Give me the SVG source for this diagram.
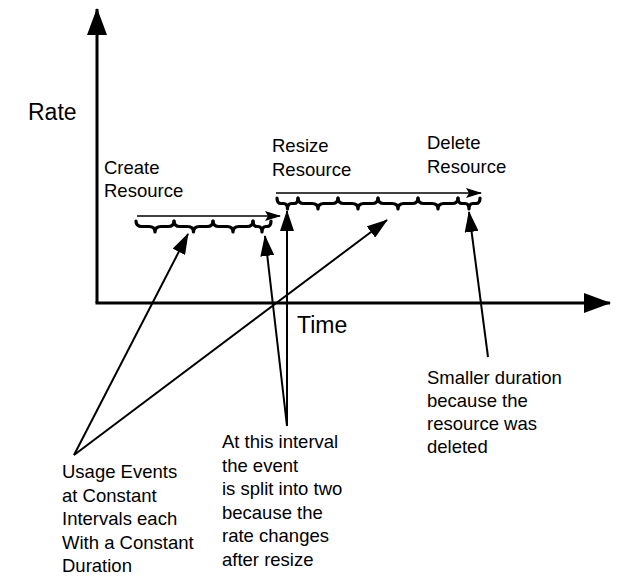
<svg xmlns="http://www.w3.org/2000/svg" width="627" height="576" viewBox="0 0 627 576">
  <style>
    text { font-family: "Liberation Sans", Arial, Helvetica, sans-serif; fill: #000; }
    .axis-label { font-size: 23px; }
    .note { font-size: 18.5px; }
    .axis { stroke: #000; stroke-width: 3; fill: none; }
    .timeline { stroke: #000; stroke-width: 1.6; fill: none; }
    .pointer { stroke: #000; stroke-width: 2; fill: none; }
    .brace { stroke: #000; stroke-width: 3.2; fill: none; stroke-linejoin: round; stroke-linecap: round; }
  </style>
  <defs>
    <marker id="axisHead" viewBox="0 0 27 20" refX="26" refY="10" markerWidth="27" markerHeight="20" markerUnits="userSpaceOnUse" orient="auto">
      <path d="M0,0 L27,10 L0,20 Z" fill="#000"/>
    </marker>
    <marker id="pointerHead" viewBox="0 0 21 14" refX="20" refY="7" markerWidth="21" markerHeight="14" markerUnits="userSpaceOnUse" orient="auto">
      <path d="M0,0 L21,7 L0,14 Z" fill="#000"/>
    </marker>
    <marker id="timelineHead" viewBox="0 0 16 10" refX="15" refY="5" markerWidth="16" markerHeight="10" markerUnits="userSpaceOnUse" orient="auto">
      <path d="M0,0 L16,5 L0,10 L3,5 Z" fill="#000"/>
    </marker>
  </defs>

  <!-- axes -->
  <g id="axes">
    <line class="axis" x1="97" y1="303" x2="97" y2="9" marker-end="url(#axisHead)"/>
    <line class="axis" x1="95.5" y1="303" x2="610" y2="303" marker-end="url(#axisHead)"/>
    <text class="axis-label" x="28" y="120">Rate</text>
    <text class="axis-label" x="297" y="333">Time</text>
  </g>

  <!-- event labels -->
  <g id="create-label">
    <text class="note" x="104" y="174">Create</text>
    <text class="note" x="104" y="197">Resource</text>
  </g>
  <g id="resize-label">
    <text class="note" x="272" y="152">Resize</text>
    <text class="note" x="272" y="176">Resource</text>
  </g>
  <g id="delete-label">
    <text class="note" x="427" y="149">Delete</text>
    <text class="note" x="427" y="173">Resource</text>
  </g>

  <!-- usage periods: timeline arrows with interval braces -->
  <g id="create-period">
    <line class="timeline" x1="137" y1="216" x2="280" y2="216" marker-end="url(#timelineHead)"/>
    <path class="brace" d="M136,221 Q136,226.5 142,226.5 L149,226.5 Q155,226.5 155,232 Q155,226.5 161,226.5 L168,226.5 Q174,226.5 174,221"/>
    <path class="brace" d="M174,221 Q174,226.5 180,226.5 L187.5,226.5 Q193.5,226.5 193.5,232 Q193.5,226.5 199.5,226.5 L207,226.5 Q213,226.5 213,221"/>
    <path class="brace" d="M213,221 Q213,226.5 219,226.5 L227,226.5 Q233,226.5 233,232 Q233,226.5 239,226.5 L247,226.5 Q253,226.5 253,221"/>
    <path class="brace" d="M253,221 Q253,226.5 257,226.5 L258,226.5 Q262,226.5 262,232 Q262,226.5 266,226.5 L267,226.5 Q271,226.5 271,221"/>
  </g>
  <g id="resize-period">
    <line class="timeline" x1="276" y1="193" x2="481" y2="193" marker-end="url(#timelineHead)"/>
    <path class="brace" d="M277,198 Q277,203.5 281,203.5 L283.5,203.5 Q287.5,203.5 287.5,209 Q287.5,203.5 291.5,203.5 L294,203.5 Q298,203.5 298,198"/>
    <path class="brace" d="M298,198 Q298,203.5 304,203.5 L312,203.5 Q318,203.5 318,209 Q318,203.5 324,203.5 L332,203.5 Q338,203.5 338,198"/>
    <path class="brace" d="M338,198 Q338,203.5 344,203.5 L352,203.5 Q358,203.5 358,209 Q358,203.5 364,203.5 L372,203.5 Q378,203.5 378,198"/>
    <path class="brace" d="M378,198 Q378,203.5 384,203.5 L392,203.5 Q398,203.5 398,209 Q398,203.5 404,203.5 L412,203.5 Q418,203.5 418,198"/>
    <path class="brace" d="M418,198 Q418,203.5 424,203.5 L432,203.5 Q438,203.5 438,209 Q438,203.5 444,203.5 L452,203.5 Q458,203.5 458,198"/>
    <path class="brace" d="M458,198 Q458,203.5 462,203.5 L465,203.5 Q469,203.5 469,209 Q469,203.5 473,203.5 L476,203.5 Q480,203.5 480,198"/>
  </g>

  <!-- callout pointers -->
  <g id="connectors">
    <line class="pointer" x1="74" y1="455" x2="188" y2="234" marker-end="url(#pointerHead)"/>
    <line class="pointer" x1="74" y1="455" x2="387" y2="220" marker-end="url(#pointerHead)"/>
    <line class="pointer" x1="287" y1="426" x2="265" y2="236" marker-end="url(#pointerHead)"/>
    <line class="pointer" x1="287" y1="426" x2="287" y2="211" marker-end="url(#pointerHead)"/>
    <line class="pointer" x1="488" y1="357" x2="469" y2="212" marker-end="url(#pointerHead)"/>
  </g>

  <!-- callout notes -->
  <g id="usage-note">
    <text class="note" x="62" y="478">Usage Events</text>
    <text class="note" x="62" y="501.5">at Constant</text>
    <text class="note" x="62" y="525">Intervals each</text>
    <text class="note" x="62" y="548.5">With a Constant</text>
    <text class="note" x="62" y="572">Duration</text>
  </g>
  <g id="split-note">
    <text class="note" x="222" y="448">At this interval</text>
    <text class="note" x="222" y="471.5">the event</text>
    <text class="note" x="222" y="495">is split into two</text>
    <text class="note" x="222" y="518.5">because the</text>
    <text class="note" x="222" y="542">rate changes</text>
    <text class="note" x="222" y="565.5">after resize</text>
  </g>
  <g id="delete-note">
    <text class="note" x="427" y="384">Smaller duration</text>
    <text class="note" x="427" y="407">because the</text>
    <text class="note" x="427" y="430">resource was</text>
    <text class="note" x="427" y="453">deleted</text>
  </g>
</svg>
